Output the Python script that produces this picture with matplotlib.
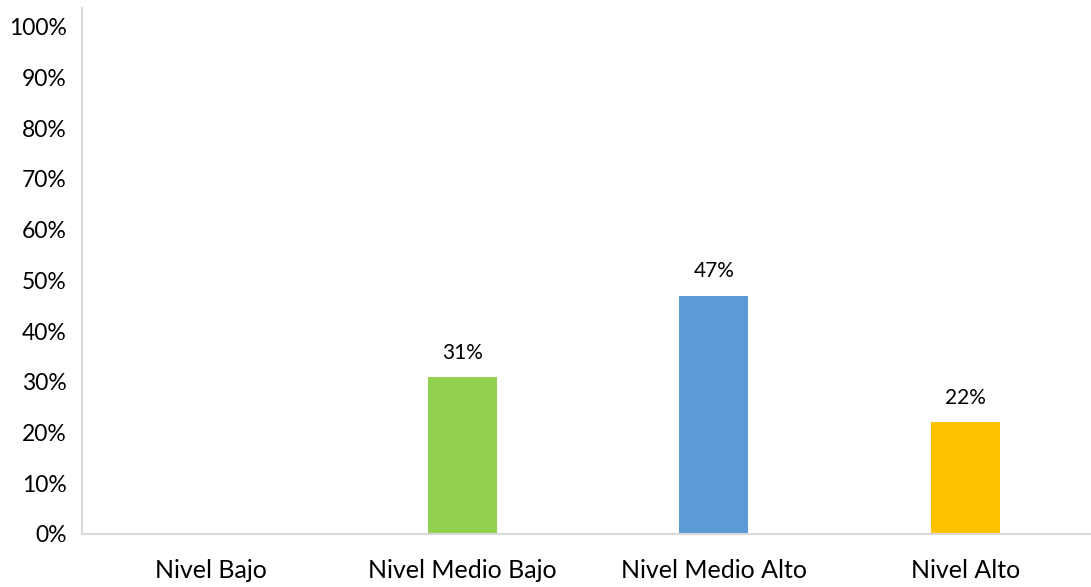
import matplotlib
matplotlib.use("Agg")
import matplotlib.pyplot as plt

categories = ["Nivel Bajo", "Nivel Medio Bajo", "Nivel Medio Alto", "Nivel Alto"]
values = [0.0, 0.31, 0.47, 0.22]
labels = ["", "31%", "47%", "22%"]
colors = ["#A5A5A5", "#92D050", "#5B9BD5", "#FFC000"]
yticks = [i / 10 for i in range(11)]
yticklabels = [f"{i*10}%" for i in range(11)]

plt.rcParams['font.family'] = ['Lato', 'DejaVu Sans']

fig = plt.figure(figsize=(10.91, 5.87), dpi=100)
ax = fig.add_axes([82/1091, 1 - 534/587, (1091-82)/1091, (534-8)/587])

x = list(range(len(categories)))
bars = ax.bar(x, values, width=0.275, color=colors)
for xi, v, lab in zip(x, values, labels):
    if lab:
        ax.text(xi, v + 0.028, lab, ha='center', va='bottom', fontsize=15, color='#000000')

ax.set_xlim(-0.513, 3.5)
ax.set_ylim(0, 1.037)
ax.set_yticks(yticks)
ax.set_yticklabels(yticklabels, fontsize=16.5)
ax.set_xticks(x)
ax.set_xticklabels(categories, fontsize=18)
ax.tick_params(axis='both', length=0, colors='#000000')
ax.tick_params(axis='x', pad=18)
ax.tick_params(axis='y', pad=11)
for s in ['top', 'right']:
    ax.spines[s].set_visible(False)
for s in ['left', 'bottom']:
    ax.spines[s].set_color('#D9D9D9')
    ax.spines[s].set_linewidth(1.5)

fig.savefig("out.png", dpi=100)
